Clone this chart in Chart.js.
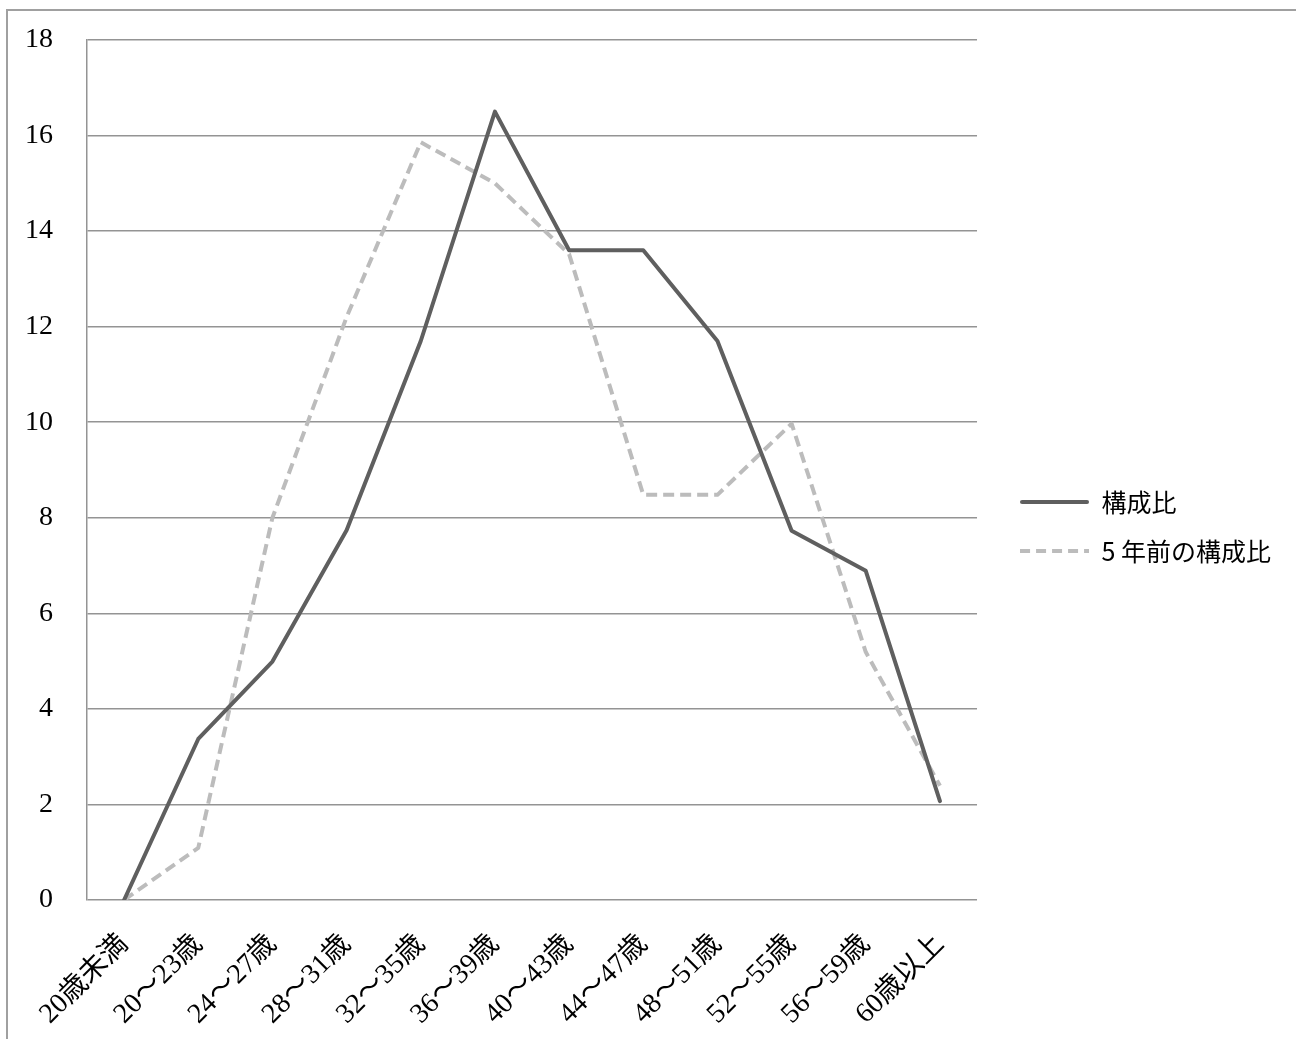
<!DOCTYPE html>
<html lang="ja">
<head>
<meta charset="utf-8">
<title>構成比</title>
<script src="https://cdn.jsdelivr.net/npm/chart.js@4.4.1/dist/chart.umd.min.js"></script>
<style>
  html, body { margin: 0; padding: 0; background: #fff; }
  canvas { display: block; }
</style>
</head>
<body>
<canvas id="chart" width="1296" height="1039"></canvas>
<script>
const ageGroups = ['20歳未満', '20～23歳', '24～27歳', '28～31歳', '32～35歳', '36～39歳',
  '40～43歳', '44～47歳', '48～51歳', '52～55歳', '56～59歳', '60歳以上'];
const currentShare = [0, 3.37, 4.99, 7.74, 11.7, 16.5, 13.6, 13.6, 11.7, 7.73, 6.89, 2.07];
const shareFiveYearsAgo = [0, 1.09, 8.0, 12.2, 15.86, 15.0, 13.52, 8.48, 8.48, 9.97, 5.19, 2.39];
const yTicks = [0, 2, 4, 6, 8, 10, 12, 14, 16, 18];

const serif = '"Liberation Serif", "Noto Sans CJK JP", serif';
const sans = '"Noto Sans CJK JP", "Noto Sans", sans-serif';

// small line sample used as the legend symbol (keeps the dash visible)
function lineIcon(color, dash) {
  const c = document.createElement('canvas');
  c.width = 69;
  c.height = 8;
  const g = c.getContext('2d');
  g.strokeStyle = color;
  g.lineWidth = 4;
  g.lineCap = dash ? 'butt' : 'round';
  g.setLineDash(dash || []);
  g.beginPath();
  g.moveTo(dash ? 0 : 2, 4);
  g.lineTo(dash ? 69 : 67, 4);
  g.stroke();
  return c;
}

// outer frame (only top and left edges are visible in the picture)
const framePlugin = {
  id: 'frame',
  beforeDraw(chart) {
    const { ctx, width, height } = chart;
    ctx.save();
    ctx.strokeStyle = '#a0a0a0';
    ctx.lineWidth = 2;
    ctx.beginPath();
    ctx.moveTo(7, height);
    ctx.lineTo(7, 10);
    ctx.lineTo(width, 10);
    ctx.stroke();
    ctx.restore();
  }
};

// push the legend a bit away from the plot area and up a little
const legendGap = {
  id: 'legendGap',
  afterLayout(chart) {
    const lg = chart.legend;
    if (!lg) return;
    const shift = chart.chartArea.right + 43 - 24 - lg.left;
    lg.left += shift;
    lg.right += shift;
    lg.top -= 13;
    lg.bottom -= 13;
  }
};

const noPadding = () => ({ left: 0, top: 0, right: 0, bottom: 0 });

const ctx = document.getElementById('chart').getContext('2d');
new Chart(ctx, {
  type: 'line',
  data: {
    labels: ageGroups,
    datasets: [
      {
        label: '構成比',
        data: currentShare,
        borderColor: '#5f5f5f',
        backgroundColor: '#5f5f5f',
        borderWidth: 4,
        borderJoinStyle: 'round',
        borderCapStyle: 'round',
        pointRadius: 0,
        pointStyle: lineIcon('#5f5f5f'),
        tension: 0
      },
      {
        label: '5 年前の構成比',
        data: shareFiveYearsAgo,
        borderColor: '#bcbcbc',
        backgroundColor: '#bcbcbc',
        borderWidth: 4,
        borderDash: [11, 6],
        borderJoinStyle: 'round',
        pointRadius: 0,
        pointStyle: lineIcon('#bcbcbc', [10, 6]),
        tension: 0
      }
    ]
  },
  options: {
    responsive: false,
    animation: false,
    layout: { padding: { left: 26, top: 40, right: 34, bottom: 0 } },
    scales: {
      x: {
        offset: true,
        grid: { display: false },
        border: { display: false },
        afterFit(scale) {
          // rotated first label hangs over the left margin like the original
          scale.getPadding = noPadding;
          scale.height = 139;
        },
        ticks: {
          minRotation: 45,
          maxRotation: 45,
          padding: 20,
          color: '#000',
          font: { family: serif, size: 28 }
        }
      },
      y: {
        min: 0,
        max: 18,
        afterBuildTicks(scale) {
          scale.ticks = yTicks.map(v => ({ value: v }));
        },
        afterFit(scale) {
          scale.getPadding = noPadding;
          scale.width = 61;
        },
        grid: { color: '#949494', lineWidth: 1.5, drawTicks: false },
        border: { display: true, color: '#949494', width: 1.5 },
        ticks: {
          padding: 34,
          color: '#000',
          font: { family: serif, size: 28 }
        }
      }
    },
    plugins: {
      legend: {
        display: true,
        position: 'right',
        align: 'center',
        labels: {
          usePointStyle: true,
          pointStyleWidth: 69,
          boxWidth: 69,
          padding: 24,
          color: '#000',
          font: { family: sans, size: 25 }
        }
      },
      tooltip: { enabled: false }
    }
  },
  plugins: [framePlugin, legendGap]
});
</script>
</body>
</html>
